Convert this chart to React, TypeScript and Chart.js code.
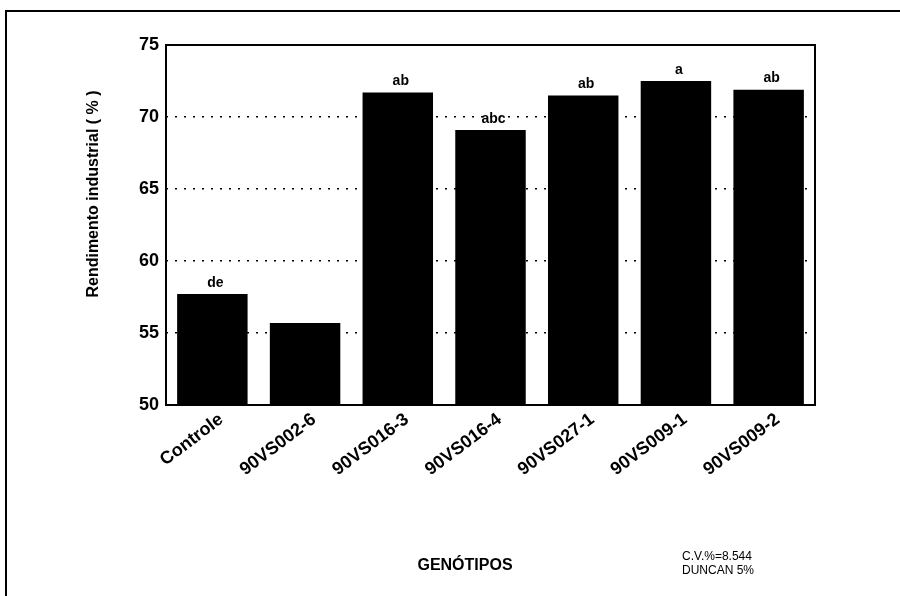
import { useEffect, useRef } from "react";
import { Chart, registerables } from "chart.js";

Chart.register(...registerables);

const categories = ["Controle", "90VS002-6", "90VS016-3", "90VS016-4", "90VS027-1", "90VS009-1", "90VS009-2"];
const values = [57.7, 55.7, 71.7, 69.1, 71.5, 72.5, 71.9];
const duncanLetters = ["de", "", "ab", "abc", "ab", "a", "ab"];
const yMin = 50;
const yMax = 75;
const yStep = 5;
const gridValues = [55, 60, 65, 70];
const yTitle = "Rendimento industrial ( % )";
const xTitle = "GENÓTIPOS";
const notes = ["C.V.%=8.544", "DUNCAN 5%"];

const FONT = '"Liberation Sans", Arial, sans-serif';

const decor = {
  id: "decor",
  beforeDraw(chart: any) {
    const { ctx, width, height } = chart;
    ctx.save();
    ctx.fillStyle = "#fff";
    ctx.fillRect(0, 0, width, height);
    ctx.restore();
  },
  afterDatasetsDraw(chart: any) {
    const { ctx, chartArea } = chart;
    const { left, top, right, bottom } = chartArea;
    ctx.save();
    ctx.strokeStyle = "#000";
    ctx.lineWidth = 2;
    ctx.strokeRect(left, top, right - left, bottom - top);
    // outer frame
    ctx.beginPath();
    ctx.moveTo(6, chart.height);
    ctx.lineTo(6, 11);
    ctx.lineTo(chart.width, 11);
    ctx.stroke();

    // Duncan letters
    ctx.fillStyle = "#000";
    ctx.font = `bold 14px ${FONT}`;
    ctx.textAlign = "center";
    ctx.textBaseline = "middle";
    const meta = chart.getDatasetMeta(0);
    meta.data.forEach((bar: any, i: number) => {
      const t = duncanLetters[i];
      if (t) ctx.fillText(t, bar.x + 3, bar.y - 11);
    });

    // y title
    ctx.save();
    ctx.font = `bold 16px ${FONT}`;
    ctx.translate(94, 194);
    ctx.rotate(-Math.PI / 2);
    ctx.fillText(yTitle, 0, 0);
    ctx.restore();

    // x title
    ctx.font = `bold 16px ${FONT}`;
    ctx.fillText(xTitle, 465, 566);

    // notes
    ctx.font = `12px ${FONT}`;
    ctx.textAlign = "left";
    notes.forEach((n, i) => ctx.fillText(n, 682, 557 + i * 14));
    ctx.restore();
  },
};

export default function App() {
  const ref = useRef<HTMLCanvasElement>(null);
  useEffect(() => {
    const chart = new Chart(ref.current as HTMLCanvasElement, {
      type: "bar",
      data: {
        labels: categories,
        datasets: [
          {
            data: values,
            backgroundColor: "#000",
            borderWidth: 0,
            categoryPercentage: 1,
            barPercentage: 0.76,
          },
        ],
      },
      options: {
        responsive: false,
        devicePixelRatio: 1,
        animation: false,
        layout: { padding: { left: 0, top: 45, right: 85, bottom: 0 } },
        plugins: { legend: { display: false }, tooltip: { enabled: false } },
        scales: {
          x: {
            grid: { display: false, drawTicks: false },
            border: { display: false },
            ticks: {
              color: "#000",
              font: { family: FONT, size: 18, weight: "bold" },
              minRotation: 37,
              maxRotation: 37,
              autoSkip: false,
              padding: 4,
              labelOffset: 9,
            },
            afterFit(scale: any) {
              scale.height = 191;
            },
          },
          y: {
            min: yMin,
            max: yMax,
            grid: {
              drawTicks: false,
              color: (c: any) => (gridValues.includes(c.tick?.value) ? "#000" : "rgba(0,0,0,0)"),
              lineWidth: 1.5,
            },
            border: { display: false, dash: [2, 7] },
            ticks: {
              stepSize: yStep,
              color: "#000",
              font: { family: FONT, size: 18, weight: "bold" },
              padding: 7,
            },
            afterFit(scale: any) {
              scale.width = 166;
            },
          },
        },
      },
      plugins: [decor],
    } as any);
    return () => chart.destroy();
  }, []);
  return (
    <div style={{ position: "fixed", left: 0, top: 0, width: 900, height: 596, background: "#fff" }}>
      <canvas ref={ref} width={900} height={596} style={{ display: "block" }} />
    </div>
  );
}
